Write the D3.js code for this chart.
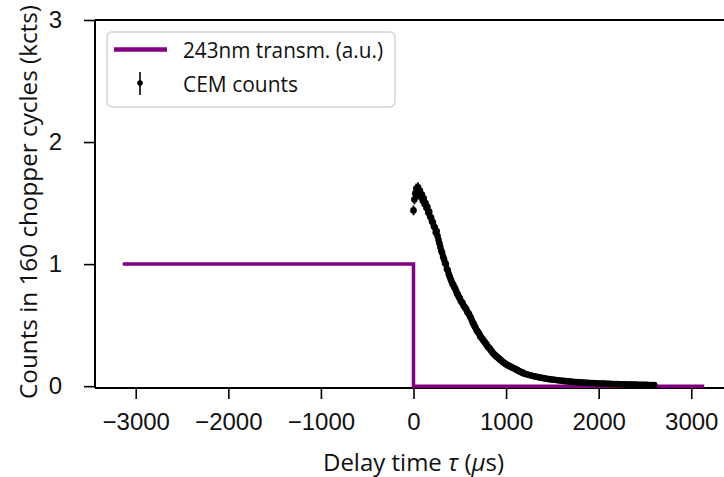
<!DOCTYPE html>
<html>
<head>
<meta charset="utf-8">
<script src="https://cdn.jsdelivr.net/npm/d3@7"></script>
<style>
  body { margin: 0; background: #fff; }
  svg { display: block; font-family: "Open Sans", "Noto Sans", sans-serif; }
</style>
</head>
<body>
<div id="chart"></div>
<script>
// Laser transmission step (a.u.)
const laserTau = [-3140, 0, 0, 3140];
const laserLevel = [1, 1, 0, 0];

// CEM counts vs delay time (kcts)
const tauUs = [
  0, 10, 20, 30, 40, 50, 60, 70, 80, 90, 100, 110, 120, 130, 140, 150, 160, 170, 180, 190,
  200, 210, 220, 230, 240, 250, 260, 270, 280, 290, 300, 310, 320, 330, 340, 350, 360, 370, 380, 390,
  400, 410, 420, 430, 440, 450, 460, 470, 480, 490, 500, 510, 520, 530, 540, 550, 560, 570, 580, 590,
  600, 610, 620, 630, 640, 650, 660, 670, 680, 690, 700, 710, 720, 730, 740, 750, 760, 770, 780, 790,
  800, 810, 820, 830, 840, 850, 860, 870, 880, 890, 900, 910, 920, 930, 940, 950, 960, 970, 980, 990,
  1000, 1010, 1020, 1030, 1040, 1050, 1060, 1070, 1080, 1090, 1100, 1110, 1120, 1130, 1140, 1150, 1160, 1170, 1180, 1190,
  1200, 1220, 1240, 1260, 1280, 1300, 1320, 1340, 1360, 1380, 1400, 1420, 1440, 1460, 1480, 1500, 1520, 1540, 1560, 1580,
  1600, 1620, 1640, 1660, 1680, 1700, 1720, 1740, 1760, 1780, 1800, 1820, 1840, 1860, 1880, 1900, 1920, 1940, 1960, 1980,
  2000, 2020, 2040, 2060, 2080, 2100, 2120, 2140, 2160, 2180, 2200, 2220, 2240, 2260, 2280, 2300, 2320, 2340, 2360, 2380,
  2400, 2420, 2440, 2460, 2480, 2500, 2520, 2540, 2560, 2580, 2600
];
const countsKcts = [
  1.44, 1.53, 1.58, 1.62, 1.57, 1.63, 1.58, 1.60, 1.55, 1.57, 1.52, 1.54, 1.49, 1.50, 1.46, 1.47, 1.42, 1.43, 1.39, 1.38,
  1.35, 1.34, 1.31, 1.30, 1.26, 1.27, 1.23, 1.20, 1.17, 1.14, 1.11, 1.09, 1.06, 1.04, 1.01, 1.00, 0.96, 0.95, 0.92, 0.90,
  0.88, 0.86, 0.84, 0.83, 0.81, 0.80, 0.78, 0.76, 0.75, 0.73, 0.72, 0.70, 0.69, 0.68, 0.66, 0.65, 0.64, 0.63, 0.61, 0.60,
  0.59, 0.57, 0.56, 0.54, 0.52, 0.51, 0.49, 0.48, 0.46, 0.45, 0.44, 0.43, 0.41, 0.40, 0.39, 0.38, 0.37, 0.36, 0.35, 0.34,
  0.325, 0.318, 0.31, 0.30, 0.29, 0.28, 0.27, 0.262, 0.255, 0.248, 0.24, 0.234, 0.228, 0.221, 0.215, 0.208, 0.20, 0.195, 0.19, 0.185,
  0.18, 0.175, 0.17, 0.167, 0.163, 0.159, 0.155, 0.151, 0.148, 0.144, 0.14, 0.136, 0.132, 0.128, 0.124, 0.12, 0.116, 0.113, 0.11, 0.106,
  0.102, 0.098, 0.093, 0.089, 0.085, 0.081, 0.078, 0.075, 0.072, 0.069, 0.066, 0.063, 0.061, 0.058, 0.056, 0.054, 0.052, 0.050, 0.048, 0.046,
  0.044, 0.043, 0.041, 0.040, 0.038, 0.037, 0.036, 0.034, 0.033, 0.032, 0.031, 0.030, 0.029, 0.028, 0.027, 0.026, 0.025, 0.025, 0.024, 0.023,
  0.022, 0.022, 0.021, 0.021, 0.020, 0.019, 0.019, 0.018, 0.018, 0.017, 0.017, 0.016, 0.016, 0.015, 0.015, 0.014, 0.014, 0.014, 0.013, 0.013,
  0.013, 0.012, 0.012, 0.012, 0.011, 0.011, 0.011, 0.010, 0.010, 0.010, 0.010
];
const errKcts = [
  0.04, 0.04, 0.04, 0.04, 0.04, 0.04, 0.04, 0.04, 0.04, 0.04, 0.04, 0.04, 0.039, 0.039, 0.038, 0.038, 0.038, 0.037, 0.037, 0.037,
  0.036, 0.036, 0.036, 0.035, 0.035, 0.035, 0.034, 0.034, 0.034, 0.033, 0.033, 0.033, 0.032, 0.032, 0.032, 0.031, 0.031, 0.031, 0.030, 0.030,
  0.030, 0.029, 0.029, 0.029, 0.028, 0.028, 0.028, 0.028, 0.027, 0.027, 0.027, 0.026, 0.026, 0.026, 0.026, 0.025, 0.025, 0.025, 0.025, 0.024,
  0.024, 0.024, 0.024, 0.023, 0.023, 0.023, 0.022, 0.022, 0.021, 0.021, 0.021, 0.021, 0.020, 0.020, 0.020, 0.019, 0.019, 0.019, 0.019, 0.018,
  0.018, 0.018, 0.018, 0.017, 0.017, 0.017, 0.016, 0.016, 0.016, 0.016, 0.015, 0.015, 0.015, 0.015, 0.015, 0.014, 0.014, 0.014, 0.014, 0.014,
  0.013, 0.013, 0.013, 0.013, 0.013, 0.013, 0.012, 0.012, 0.012, 0.012, 0.012, 0.012, 0.012, 0.011, 0.011, 0.011, 0.011, 0.011, 0.011, 0.010,
  0.010, 0.010, 0.010, 0.009, 0.009, 0.009, 0.009, 0.009, 0.008, 0.008, 0.008, 0.008, 0.008, 0.008, 0.007, 0.007, 0.007, 0.007, 0.007, 0.007,
  0.007, 0.007, 0.006, 0.006, 0.006, 0.006, 0.006, 0.006, 0.006, 0.006, 0.006, 0.005, 0.005, 0.005, 0.005, 0.005, 0.005, 0.005, 0.005, 0.005,
  0.005, 0.005, 0.005, 0.005, 0.004, 0.004, 0.004, 0.004, 0.004, 0.004, 0.004, 0.004, 0.004, 0.004, 0.004, 0.004, 0.004, 0.004, 0.004, 0.004,
  0.004, 0.003, 0.003, 0.003, 0.003, 0.003, 0.003, 0.003, 0.003, 0.003, 0.003
];

const xTicks = [-3000, -2000, -1000, 0, 1000, 2000, 3000];
const yTicks = [0, 1, 2, 3];

const W = 724, H = 477;
const plot = { left: 95, right: 732, top: 20, bottom: 388 };

const svg = d3.select('#chart').append('svg')
  .attr('width', W)
  .attr('height', H);

const x = d3.scaleLinear()
  .domain([-3440, 3440])
  .range([plot.left, plot.right]);

const y = d3.scaleLinear()
  .domain([-0.015, 3])
  .range([plot.bottom, plot.top]);

// Axes
const xAxis = svg.append('g')
  .attr('transform', `translate(0,${plot.bottom})`)
  .call(d3.axisBottom(x).tickValues(xTicks).tickSizeOuter(0).tickSize(11).tickPadding(14)
    .tickFormat(d => d3.format('d')(d).replace('-', '\u2212')));

const yAxis = svg.append('g')
  .attr('transform', `translate(${plot.left},0)`)
  .call(d3.axisLeft(y).tickValues(yTicks).tickFormat(d3.format('d'))
    .tickSizeOuter(0).tickSize(11).tickPadding(22));

[xAxis, yAxis].forEach(g => {
  g.attr('font-size', null);
  g.select('.domain').remove();
  g.selectAll('.tick line').attr('stroke', '#000').attr('stroke-width', 1.6);
  g.selectAll('.tick text')
    .attr('fill', '#111')
    .style('font-size', '24px');
});

// Spines
const spine = (x1, y1, x2, y2) => svg.append('line')
  .attr('x1', x1).attr('y1', y1).attr('x2', x2).attr('y2', y2)
  .attr('stroke', '#000').attr('stroke-width', 2);
spine(plot.left, plot.top, plot.left, plot.bottom);
spine(plot.left, plot.bottom, W, plot.bottom);
spine(plot.left, plot.top, W, plot.top);

// Laser transmission step
const laserLine = d3.line()
  .x((d, i) => x(laserTau[i]))
  .y(d => y(d));

svg.append('path')
  .datum(laserLevel)
  .attr('d', laserLine)
  .attr('fill', 'none')
  .attr('stroke', '#800080')
  .attr('stroke-width', 3.5);

// CEM counts with error bars
const pts = tauUs.map((t, i) => ({ t: t, c: countsKcts[i], e: errKcts[i] }));

svg.append('g').selectAll('line')
  .data(pts)
  .join('line')
  .attr('x1', d => x(d.t)).attr('x2', d => x(d.t))
  .attr('y1', d => y(d.c - d.e)).attr('y2', d => y(d.c + d.e))
  .attr('stroke', '#000')
  .attr('stroke-width', 1.8);

svg.append('g').selectAll('circle')
  .data(pts)
  .join('circle')
  .attr('cx', d => x(d.t))
  .attr('cy', d => y(d.c))
  .attr('r', 3.3)
  .attr('fill', '#000');

// Axis labels
svg.append('text')
  .attr('x', (plot.left + plot.right) / 2)
  .attr('y', 471)
  .attr('text-anchor', 'middle')
  .style('font-size', '24px')
  .attr('fill', '#111')
  .html('Delay time <tspan font-style="italic">\u03c4</tspan> (<tspan font-style="italic">\u03bc</tspan>s)');

svg.append('text')
  .attr('transform', 'translate(37,202) rotate(-90)')
  .attr('text-anchor', 'middle')
  .attr('textLength', 394)
  .attr('lengthAdjust', 'spacingAndGlyphs')
  .style('font-size', '24px')
  .attr('fill', '#111')
  .text('Counts in 160 chopper cycles (kcts)');

// Legend
const legend = svg.append('g').attr('transform', 'translate(107,32)');
legend.append('rect')
  .attr('width', 288).attr('height', 75)
  .attr('rx', 5)
  .attr('fill', '#fff')
  .attr('stroke', '#d4d4d4')
  .attr('stroke-width', 1.5);
legend.append('line')
  .attr('x1', 7).attr('x2', 60)
  .attr('y1', 17.5).attr('y2', 17.5)
  .attr('stroke', '#800080').attr('stroke-width', 4.5);
legend.append('text')
  .attr('x', 76).attr('y', 26)
  .attr('textLength', 200)
  .attr('lengthAdjust', 'spacingAndGlyphs')
  .style('font-size', '21px')
  .attr('fill', '#111')
  .text('243nm transm. (a.u.)');
legend.append('line')
  .attr('x1', 33).attr('x2', 33)
  .attr('y1', 40).attr('y2', 63)
  .attr('stroke', '#000').attr('stroke-width', 1.6);
legend.append('circle')
  .attr('cx', 33).attr('cy', 51).attr('r', 2.8)
  .attr('fill', '#000');
legend.append('text')
  .attr('x', 76).attr('y', 60)
  .attr('textLength', 115)
  .attr('lengthAdjust', 'spacingAndGlyphs')
  .style('font-size', '21px')
  .attr('fill', '#111')
  .text('CEM counts');
</script>
</body>
</html>
